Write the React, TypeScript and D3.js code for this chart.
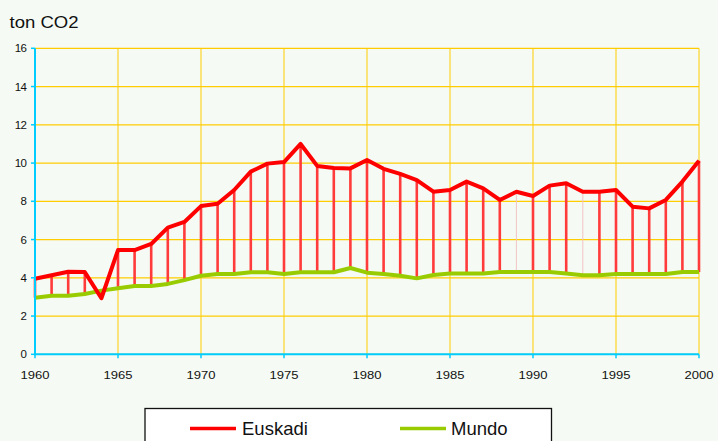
import React from "react";
import * as d3 from "d3";

const years = d3.range(1960, 2001);
const euskadi = [
  3.95, 4.13, 4.32, 4.3, 2.93, 5.45, 5.45, 5.77, 6.62, 6.92, 7.75, 7.87, 8.59, 9.55, 9.97, 10.05, 11.0,
  9.85, 9.74, 9.72, 10.16, 9.7, 9.43, 9.11, 8.5, 8.59, 9.03, 8.68, 8.07, 8.5, 8.28, 8.82, 8.94, 8.5,
  8.5, 8.59, 7.72, 7.63, 8.07, 9.03, 10.12,
];
const mundo = [
  2.96, 3.06, 3.06, 3.15, 3.33, 3.45, 3.57, 3.57, 3.68, 3.88, 4.11, 4.2, 4.2, 4.29, 4.29, 4.2, 4.29,
  4.29, 4.29, 4.51, 4.27, 4.2, 4.11, 3.97, 4.15, 4.22, 4.22, 4.22, 4.3, 4.3, 4.3, 4.3, 4.22, 4.13,
  4.13, 4.2, 4.2, 4.2, 4.2, 4.3, 4.3,
];
// years where the drop line is barely visible
const faintYears = [1989, 1993];
const yTicks = [0, 2, 4, 6, 8, 10, 12, 14, 16];
const xTicks = [1960, 1965, 1970, 1975, 1980, 1985, 1990, 1995, 2000];

const W = 718;
const H = 441;

export default function App() {
  const x = d3.scaleLinear().domain([1960, 2000]).range([35, 699]);
  const y = d3.scaleLinear().domain([0, 16]).range([354.3, 48.3]);

  const line = d3
    .line<number>()
    .x((_, i) => x(years[i]))
    .y((d) => y(d));

  const font = "'Liberation Sans', Arial, sans-serif";

  return (
    <svg
      width={W}
      height={H}
      style={{ position: "absolute", left: 0, top: 0, background: "#F5FBF4" }}
    >
      <rect x={0} y={0} width={W} height={H} fill="#F5FBF4" />
      <text
        x={9.5}
        y={27.5}
        fontFamily={font}
        fontSize={16}
        textLength={69}
        lengthAdjust="spacingAndGlyphs"
        fill="#111"
      >
        ton CO2
      </text>

      {/* grid */}
      {yTicks.map((t) => (
        <line key={"gy" + t} x1={x(1960)} x2={x(2000)} y1={y(t)} y2={y(t)} stroke="#FFCC00" strokeWidth={1.3} />
      ))}
      {xTicks.map((t) => (
        <line key={"gx" + t} x1={x(t)} x2={x(t)} y1={y(0)} y2={y(16)} stroke="#FFCC00" strokeWidth={1} />
      ))}

      {/* drop lines */}
      {years.map((yr, i) => (
        <line
          key={"d" + yr}
          x1={x(yr)}
          x2={x(yr)}
          y1={y(euskadi[i])}
          y2={y(mundo[i])}
          stroke={faintYears.includes(yr) ? "#F2C4C4" : "#FF3B3B"}
          strokeWidth={faintYears.includes(yr) ? 1 : 2.6}
        />
      ))}

      <path d={line(mundo) ?? ""} fill="none" stroke="#99CC00" strokeWidth={4} strokeLinejoin="round" />
      <path d={line(euskadi) ?? ""} fill="none" stroke="#FF0000" strokeWidth={4} strokeLinejoin="round" />

      {/* axes */}
      <line x1={x(1960)} x2={x(1960)} y1={y(0) + 1} y2={y(16)} stroke="#00CCFF" strokeWidth={2} />
      <line x1={x(1960) - 1} x2={x(2000)} y1={y(0)} y2={y(0)} stroke="#00CCFF" strokeWidth={2} />
      {yTicks.map((t) => (
        <g key={"ty" + t}>
          <line x1={x(1960) - 4} x2={x(1960)} y1={y(t)} y2={y(t)} stroke="#00CCFF" strokeWidth={1.5} />
          <text
            x={26.5}
            y={y(t) + 4}
            textAnchor="end"
            fontFamily={font}
            fontSize={11.5}
            letterSpacing={-0.5}
            fill="#111"
          >
            {t}
          </text>
        </g>
      ))}
      {xTicks.map((t) => (
        <g key={"tx" + t}>
          <line x1={x(t)} x2={x(t)} y1={y(0)} y2={y(0) + 4} stroke="#00CCFF" strokeWidth={1.5} />
          <text
            x={x(t) - 14.5}
            y={378.5}
            fontFamily={font}
            fontSize={11}
            textLength={29}
            lengthAdjust="spacingAndGlyphs"
            fill="#111"
          >
            {t}
          </text>
        </g>
      ))}

      {/* legend */}
      <rect x={145} y={408.5} width={406.5} height={40} fill="#FFFFFF" stroke="#111" strokeWidth={1.3} />
      <line x1={190} x2={236} y1={428.5} y2={428.5} stroke="#FF0000" strokeWidth={3.5} />
      <text x={242} y={434.5} fontFamily={font} fontSize={18.5} fill="#111">
        Euskadi
      </text>
      <line x1={400} x2={446} y1={428.5} y2={428.5} stroke="#99CC00" strokeWidth={3.5} />
      <text x={451} y={434.5} fontFamily={font} fontSize={18.5} fill="#111">
        Mundo
      </text>
    </svg>
  );
}
